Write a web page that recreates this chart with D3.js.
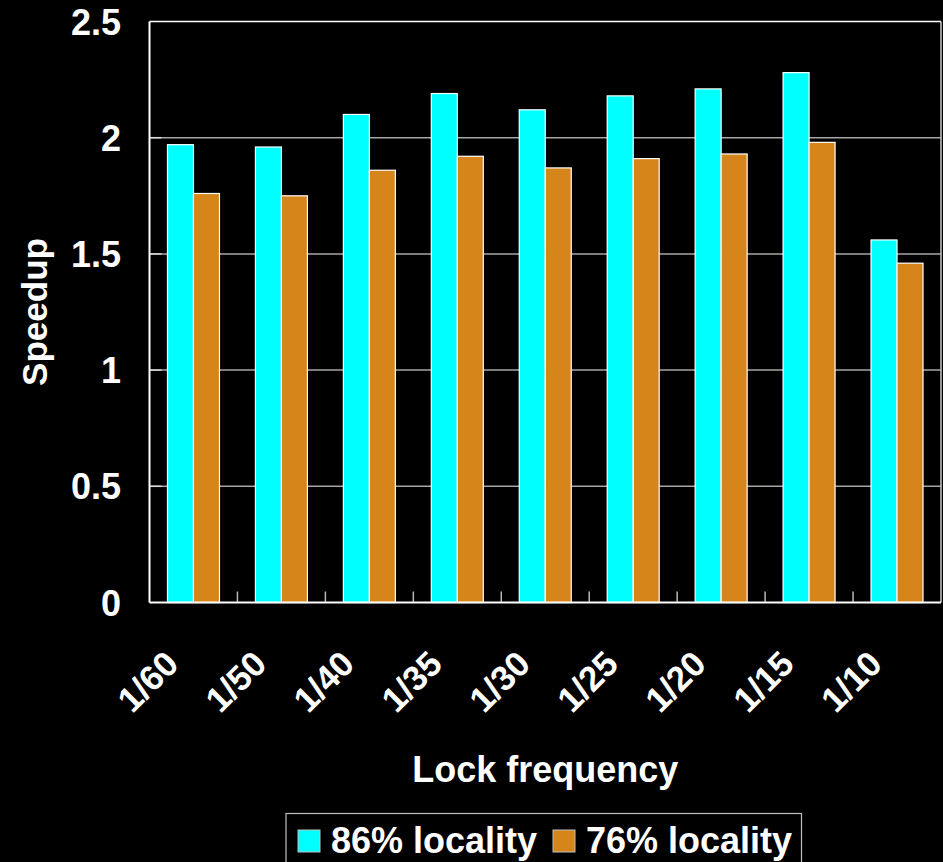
<!DOCTYPE html>
<html>
<head>
<meta charset="utf-8">
<script src="https://cdn.jsdelivr.net/npm/d3@7"></script>
<style>
  html, body { margin: 0; padding: 0; background: #000; }
  svg { display: block; }
  text { font-family: "Liberation Sans", Arial, Helvetica, sans-serif; font-weight: bold; fill: #fff; }
</style>
</head>
<body>
<svg id="chart" width="943" height="862"></svg>
<script>
// Lock frequency categories and measured speedups for two locality levels
const categories = ["1/60", "1/50", "1/40", "1/35", "1/30", "1/25", "1/20", "1/15", "1/10"];
const locality86 = [1.97, 1.96, 2.10, 2.19, 2.12, 2.18, 2.21, 2.28, 1.56];
const locality76 = [1.76, 1.75, 1.86, 1.92, 1.87, 1.91, 1.93, 1.98, 1.46];
const seriesNames = ["86% locality", "76% locality"];
const seriesColors = ["#00FFFF", "#D58519"];
const yTicks = [0, 0.5, 1, 1.5, 2, 2.5];

const svg = d3.select("#chart");
const W = 943, H = 862;
const plot = { left: 149.5, right: 941, top: 21.5, bottom: 602.5 };

svg.append("rect").attr("width", W).attr("height", H).attr("fill", "#000");

const x = d3.scaleBand().domain(categories).range([plot.left, plot.right]).padding(0);
const y = d3.scaleLinear().domain([0, 2.5]).range([plot.bottom, plot.top]);

const barW = 26;
const groupOffset = (x.bandwidth() - 2 * barW) / 2;

// Horizontal gridlines
svg.append("g")
  .selectAll("line")
  .data(yTicks.filter(v => v > 0 && v < 2.5))
  .join("line")
  .attr("x1", plot.left).attr("x2", plot.right)
  .attr("y1", d => y(d)).attr("y2", d => y(d))
  .attr("stroke", "#a6a6a6").attr("stroke-width", 1.5);

// Inner tick marks on the value axis
svg.append("g")
  .selectAll("line")
  .data(yTicks.filter(v => v > 0 && v < 2.5))
  .join("line")
  .attr("x1", plot.left).attr("x2", plot.left + 12)
  .attr("y1", d => y(d)).attr("y2", d => y(d))
  .attr("stroke", "#d8d8d8").attr("stroke-width", 1.5);

// Plot frame: top and right edges
svg.append("line")
  .attr("x1", plot.left).attr("x2", plot.right)
  .attr("y1", plot.top).attr("y2", plot.top)
  .attr("stroke", "#ffffff").attr("stroke-width", 1.5);
svg.append("line")
  .attr("x1", plot.right).attr("x2", plot.right)
  .attr("y1", plot.top).attr("y2", plot.bottom)
  .attr("stroke", "#c8c8c8").attr("stroke-width", 1.5);

// Category boundary ticks pointing up from the base
const boundaries = categories.slice(1).map(c => x(c));
svg.append("g")
  .selectAll("line")
  .data(boundaries)
  .join("line")
  .attr("x1", d => d).attr("x2", d => d)
  .attr("y1", plot.bottom).attr("y2", plot.bottom - 11)
  .attr("stroke", "#b8b8b8").attr("stroke-width", 1.5);

// Bars
const seriesData = [locality86, locality76];
seriesData.forEach((vals, si) => {
  svg.append("g")
    .selectAll("rect")
    .data(vals)
    .join("rect")
    .attr("x", (d, i) => x(categories[i]) + groupOffset + si * barW)
    .attr("y", d => y(d))
    .attr("width", barW)
    .attr("height", d => plot.bottom - y(d))
    .attr("fill", seriesColors[si])
    .attr("stroke", "#ffffff")
    .attr("stroke-width", 1.2);
});

// Left and bottom axis lines
svg.append("line")
  .attr("x1", plot.left).attr("x2", plot.left)
  .attr("y1", plot.top).attr("y2", plot.bottom)
  .attr("stroke", "#ffffff").attr("stroke-width", 2);
svg.append("line")
  .attr("x1", plot.left).attr("x2", plot.right)
  .attr("y1", plot.bottom).attr("y2", plot.bottom)
  .attr("stroke", "#ffffff").attr("stroke-width", 2);

// Value axis labels
svg.append("g")
  .selectAll("text")
  .data(yTicks)
  .join("text")
  .attr("x", 121)
  .attr("y", d => y(d) + 13)
  .attr("text-anchor", "end")
  .attr("font-size", 36)
  .text(d => d3.format("")(d));

// Category labels, slanted
svg.append("g")
  .selectAll("text")
  .data(categories)
  .join("text")
  .attr("transform", d => `translate(${x(d) + x.bandwidth() / 2 - 13},666) rotate(-45)`)
  .attr("text-anchor", "end")
  .attr("font-size", 35)
  .text(d => d);

// Axis titles
svg.append("text")
  .attr("transform", "translate(47,312) rotate(-90)")
  .attr("text-anchor", "middle")
  .attr("font-size", 35)
  .text("Speedup");

svg.append("text")
  .attr("x", (plot.left + plot.right) / 2)
  .attr("y", 782)
  .attr("text-anchor", "middle")
  .attr("font-size", 36)
  .text("Lock frequency");

// Legend
const legend = svg.append("g");
legend.append("rect")
  .attr("x", 286).attr("y", 813.5)
  .attr("width", 515.5).attr("height", 70)
  .attr("fill", "#000").attr("stroke", "#c0c0c0").attr("stroke-width", 1.2);

const legendX = [298, 553];
seriesNames.forEach((name, i) => {
  legend.append("rect")
    .attr("x", legendX[i]).attr("y", 830)
    .attr("width", 22).attr("height", 22)
    .attr("fill", seriesColors[i])
    .attr("stroke", "#c0c0c0").attr("stroke-width", 1);
  legend.append("text")
    .attr("x", legendX[i] + 33)
    .attr("y", 853)
    .attr("font-size", 36)
    .text(name);
});
</script>
</body>
</html>
